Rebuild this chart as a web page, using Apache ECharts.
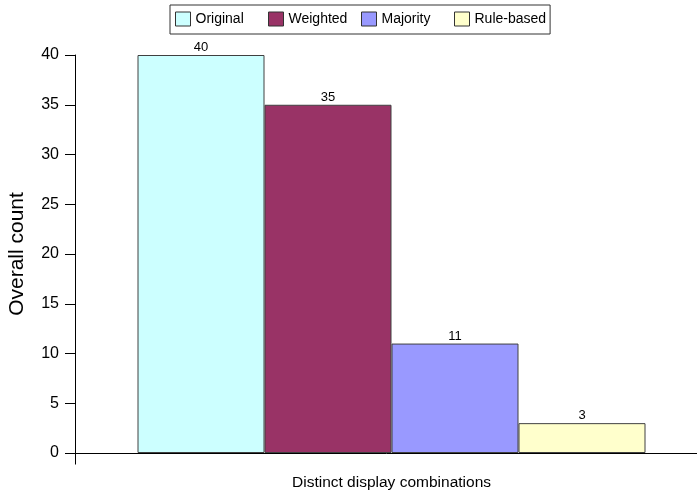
<!DOCTYPE html>
<html>
<head>
<meta charset="utf-8">
<script src="https://cdn.jsdelivr.net/npm/echarts@6/dist/echarts.min.js"></script>
<style>
  html, body { margin: 0; padding: 0; background: #fff; }
  #chart { width: 697px; height: 493px; }
</style>
</head>
<body>
<div id="chart"></div>
<script>
// Count of distinct display combinations produced by each method
const categories = ['Distinct display combinations'];
const seriesNames = ['Original', 'Weighted', 'Majority', 'Rule-based'];
const seriesValues = [[40], [35], [11], [3]];
const seriesColors = ['#CCFFFF', '#993366', '#9999FF', '#FFFFCC'];
const yTicks = { min: 0, max: 40, interval: 5 };

const FONT = '"Liberation Sans", Arial, sans-serif';
const chart = echarts.init(document.getElementById('chart'), null, { renderer: 'canvas' });

const series = seriesNames.map((name, i) => ({
  name: name,
  type: 'bar',
  data: seriesValues[i],
  barWidth: 127,
  barGap: '0%',
  itemStyle: { color: seriesColors[i], borderColor: '#404040', borderWidth: 1 },
  label: {
    show: true,
    position: 'top',
    distance: 1,
    color: '#000',
    fontFamily: FONT,
    fontSize: 13
  },
  emphasis: { disabled: true }
}));

// Legend entries laid out in equal-width columns
const legendData = seriesNames.map((n, i) => ({
  name: n,
  icon: 'rect',
  itemStyle: { color: seriesColors[i], borderColor: '#333', borderWidth: 1 },
  textStyle: i < seriesNames.length - 1 ? { width: 72.5 } : {}
}));

const option = {
  animation: false,
  backgroundColor: '#fff',
  textStyle: { fontFamily: FONT },
  legend: {
    data: legendData,
    top: 5,
    left: 170,
    itemWidth: 15,
    itemHeight: 14,
    itemGap: 0,
    padding: [6, 4, 7, 5],
    borderColor: '#333',
    borderWidth: 1,
    textStyle: { fontFamily: FONT, fontSize: 14, lineHeight: 16, color: '#000' },
    selectedMode: false
  },
  grid: { left: 75, width: 633, top: 55, bottom: 40, containLabel: false, outerBoundsMode: 'none' },
  xAxis: {
    type: 'category',
    data: categories,
    name: categories[0],
    nameLocation: 'middle',
    nameGap: 22,
    nameTextStyle: { fontFamily: FONT, fontSize: 15.5, color: '#000' },
    axisLine: { lineStyle: { color: '#000', width: 1 } },
    axisTick: { show: false },
    axisLabel: { show: false }
  },
  yAxis: {
    type: 'value',
    min: yTicks.min,
    max: yTicks.max,
    interval: yTicks.interval,
    name: 'Overall count',
    nameLocation: 'middle',
    nameGap: 47,
    nameTextStyle: { fontFamily: FONT, fontSize: 21, color: '#000' },
    axisLine: { show: true, lineStyle: { color: '#000', width: 1 } },
    axisTick: { show: true, length: 10, lineStyle: { color: '#000' } },
    axisLabel: { fontFamily: FONT, fontSize: 16, color: '#000', margin: 16 },
    splitLine: { show: false }
  },
  series: series
};

chart.setOption(option);

// Short axis stubs that cross past the origin, as in classic spreadsheet charts
const gridRect = chart.getModel().getComponent('grid', 0).coordinateSystem.getRect();
const x0 = Math.round(gridRect.x) + 0.5;
const y0 = Math.round(gridRect.y + gridRect.height) + 0.5;
chart.setOption({
  graphic: [
    { type: 'line', shape: { x1: x0 - 10, y1: y0, x2: x0, y2: y0 }, style: { stroke: '#000', lineWidth: 1 }, silent: true },
    { type: 'line', shape: { x1: x0, y1: y0, x2: x0, y2: y0 + 11 }, style: { stroke: '#000', lineWidth: 1 }, silent: true }
  ]
});
</script>
</body>
</html>
